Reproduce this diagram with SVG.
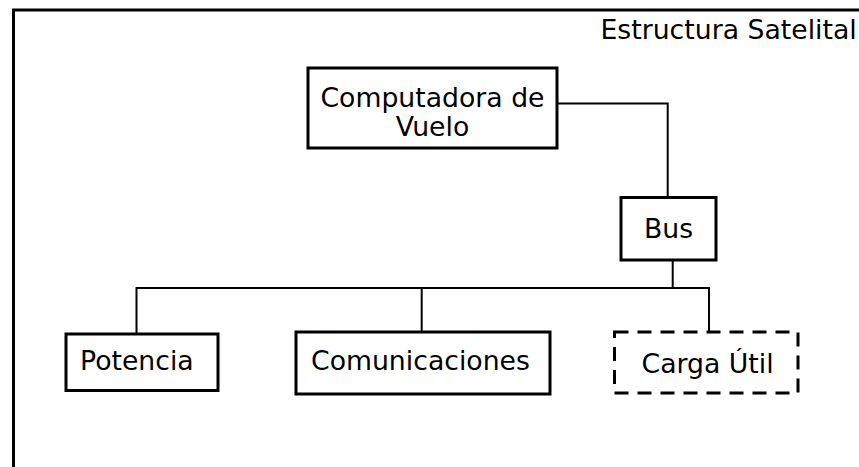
<svg xmlns="http://www.w3.org/2000/svg" width="859" height="467" viewBox="0 0 859 467">
<style>
text{font-family:"DejaVu Sans","Liberation Sans",sans-serif;font-size:26.7px;fill:#000}
.box{fill:#fff;stroke:#000;stroke-width:3}
.dash{stroke-dasharray:14 9}
.conn{fill:none;stroke:#000;stroke-width:2}
</style>
<rect width="859" height="467" fill="#fff"/>
<g id="frame">
<rect x="13.5" y="10" width="900" height="500" fill="none" stroke="#000" stroke-width="3"/>
<text x="600.5" y="39">Estructura Satelital</text>
</g>
<g id="connectors">
<polyline class="conn" points="557,103.5 667.7,103.5 667.7,197"/>
<polyline class="conn" points="672.7,260 672.7,288"/>
<polyline class="conn" points="136.5,333 136.5,288 709,288 709,332"/>
<polyline class="conn" points="421.7,288 421.7,332"/>
</g>
<g id="computadora">
<rect class="box" x="308" y="68" width="249" height="80"/>
<text x="432.5" y="106.5" text-anchor="middle">Computadora de</text>
<text x="432.5" y="136" text-anchor="middle">Vuelo</text>
</g>
<g id="bus">
<rect class="box" x="621" y="197.5" width="95" height="62.5"/>
<text x="668.5" y="237.5" text-anchor="middle">Bus</text>
</g>
<g id="potencia">
<rect class="box" x="66" y="334" width="152" height="56.5"/>
<text x="80" y="370">Potencia</text>
</g>
<g id="comunicaciones">
<rect class="box" x="296" y="332" width="254" height="62"/>
<text x="311" y="370">Comunicaciones</text>
</g>
<g id="carga">
<rect class="box dash" x="614.5" y="332" width="183.5" height="61"/>
<text x="641.5" y="373">Carga Útil</text>
</g>
</svg>
